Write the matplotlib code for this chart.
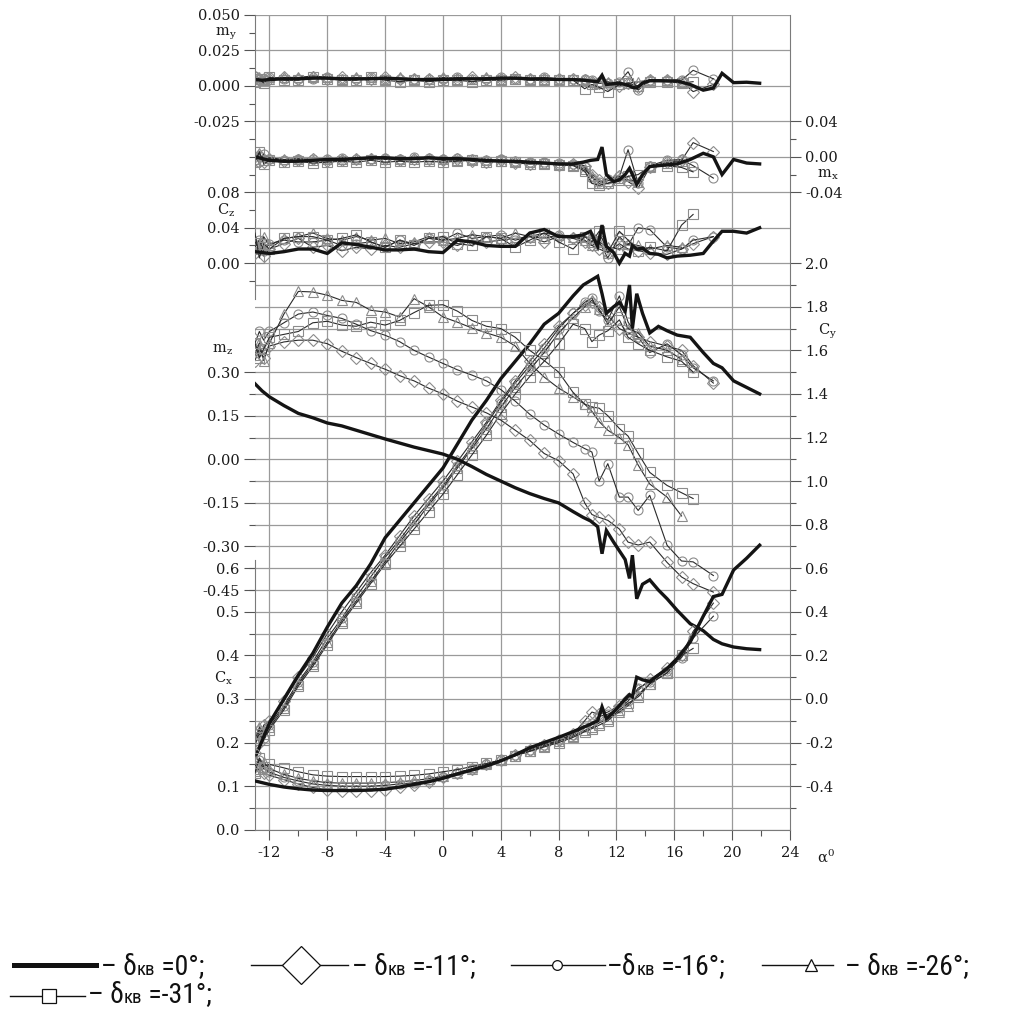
import numpy as np
import matplotlib
matplotlib.use("Agg")
import matplotlib.pyplot as plt
from matplotlib import font_manager
from matplotlib.lines import Line2D
from matplotlib.ticker import FixedLocator, FixedFormatter

nan = np.nan

# ---------------------------------------------------------------- data
# delta_kv = 0 deg (thick line)
alpha_0 = [-13, -12.5, -12, -11, -10, -9, -8, -7, -6, -5, -4, -3, -2, -1, 0, 1, 2, 3, 4, 5, 6, 7, 8, 9,
           9.7, 10.2, 10.7, 11.0, 11.3, 11.8, 12.2, 12.6, 12.9, 13.1, 13.4, 13.8, 14.3, 14.9, 15.5, 16.2,
           17.1, 18.0, 18.7, 19.3, 20.1, 21.0, 21.9]
cy_0 = [-0.27, -0.19, -0.11, 0.00, 0.11, 0.21, 0.33, 0.44, 0.52, 0.62, 0.74, 0.82, 0.90, 0.98, 1.06, 1.17,
        1.28, 1.37, 1.47, 1.55, 1.63, 1.72, 1.77, 1.85,
        1.90, 1.92, 1.94, 1.86, 1.77, 1.80, 1.82, 1.78, 1.90, 1.70, 1.86, 1.77, 1.68, 1.71, 1.69, 1.67,
        1.66, 1.59, 1.54, 1.52, 1.46, 1.43, 1.40]
mz_0 = [0.26, 0.235, 0.215, 0.185, 0.158, 0.143, 0.125, 0.115, 0.100, 0.085, 0.070, 0.056, 0.042, 0.030,
        0.018, 0.000, -0.025, -0.052, -0.075, -0.098, -0.118, -0.135, -0.150, -0.180,
        -0.200, -0.212, -0.232, -0.325, -0.245, -0.285, -0.315, -0.345, -0.410, -0.330, -0.480, -0.430,
        -0.415, -0.450, -0.480, -0.520, -0.566, -0.590, -0.620, -0.635, -0.646, -0.652, -0.655]
cx_0 = [0.112, 0.108, 0.104, 0.098, 0.094, 0.091, 0.090, 0.090, 0.090, 0.091, 0.093, 0.098, 0.104, 0.110,
        0.118, 0.128, 0.137, 0.146, 0.158, 0.172, 0.188, 0.200, 0.212, 0.225,
        0.235, 0.242, 0.250, 0.282, 0.255, 0.270, 0.285, 0.300, 0.310, 0.305, 0.350, 0.344, 0.340, 0.355,
        0.370, 0.393, 0.431, 0.490, 0.535, 0.540, 0.596, 0.623, 0.653]
cz_0 = [0.013, 0.012, 0.011, 0.013, 0.016, 0.016, 0.011, 0.023, 0.021, 0.018, 0.015, 0.015, 0.016, 0.013,
        0.012, 0.026, 0.024, 0.020, 0.019, 0.019, 0.034, 0.038, 0.030, 0.030,
        0.032, 0.036, 0.019, 0.043, 0.019, 0.012, 0.000, 0.011, 0.008, 0.020, 0.016, 0.017, 0.011, 0.010,
        0.006, 0.008, 0.009, 0.011, 0.025, 0.036, 0.036, 0.034, 0.040]
my_0 = [0.0045, 0.004, 0.0045, 0.005, 0.005, 0.0055, 0.0055, 0.005, 0.005, 0.005, 0.0055, 0.005, 0.0045,
        0.0045, 0.0045, 0.005, 0.005, 0.005, 0.0055, 0.0055, 0.005, 0.005, 0.0045, 0.0045,
        0.004, 0.0035, 0.003, 0.0075, 0.001, 0.0015, 0.002, 0.001, 0.000, -0.001, -0.0015, 0.002, 0.0037,
        0.0037, 0.0035, 0.0035, 0.001, -0.003, -0.0015, 0.0089, 0.0023, 0.0026, 0.0019]
mx_0 = [0.000, -0.002, -0.004, -0.005, -0.005, -0.004, -0.003, -0.003, -0.002, -0.001, -0.001, -0.002,
        -0.002, -0.001, -0.002, -0.002, -0.003, -0.004, -0.005, -0.005, -0.006, -0.007, -0.008, -0.008,
        -0.006, -0.004, -0.003, 0.011, -0.020, -0.028, -0.026, -0.020, -0.013, -0.020, -0.031, -0.020,
        -0.011, -0.010, -0.009, -0.008, -0.003, 0.004, 0.000, -0.020, -0.003, -0.007, -0.008]

# deflected cases (open markers)
alpha_m = [-13, -12.7, -12.4, -12, -11, -10, -9, -8, -7, -6, -5, -4, -3, -2, -1, 0, 1, 2, 3, 4, 5, 6, 7, 8, 9,
           9.8, 10.3, 10.8, 11.4, 12.2, 12.8, 13.5, 14.3, 15.5, 16.5, 17.3, 18.7]

cy_11 = [-0.16, -0.20, -0.12, -0.10, -0.01, 0.10, 0.19, 0.30, 0.40, 0.49, 0.58, 0.66, 0.75, 0.84, 0.92, 1.00,
         1.09, 1.18, 1.27, 1.37, 1.46, 1.55, 1.63, 1.71, 1.77,
         1.81, 1.82, 1.80, 1.76, 1.70, 1.68, 1.66, 1.64, 1.62, 1.60, 1.53, 1.45]
cy_16 = [-0.22, -0.14, -0.18, -0.12, -0.03, 0.08, 0.17, 0.28, 0.37, 0.47, 0.56, 0.65, 0.73, 0.82, 0.90, 0.98,
         1.07, 1.16, 1.26, 1.36, 1.45, 1.53, 1.61, 1.70, 1.77,
         1.82, 1.84, 1.78, 1.74, 1.85, 1.73, 1.66, 1.59, 1.63, 1.58, 1.52, 1.46]
cy_26 = [-0.19, -0.13, -0.16, -0.13, -0.04, 0.07, 0.16, 0.26, 0.36, 0.45, 0.54, 0.63, 0.72, 0.80, 0.89, 0.97,
         1.06, 1.15, 1.24, 1.34, 1.43, 1.51, 1.59, 1.68, 1.75,
         1.80, 1.83, 1.79, 1.72, 1.80, 1.70, 1.68, 1.62, 1.60, 1.56, nan, nan]
cy_31 = [-0.20, -0.16, -0.19, -0.14, -0.05, 0.06, 0.15, 0.25, 0.35, 0.44, 0.53, 0.62, 0.70, 0.78, 0.86, 0.94,
         1.03, 1.12, 1.21, 1.31, 1.40, 1.48, 1.55, 1.63, 1.72,
         1.70, 1.64, 1.67, 1.69, 1.74, 1.66, 1.63, 1.60, 1.57, 1.55, 1.50, nan]

mz_11 = [0.34, 0.38, 0.35, 0.39, 0.404, 0.41, 0.41, 0.398, 0.372, 0.35, 0.33, 0.31, 0.288, 0.27, 0.245, 0.225,
         0.20, 0.18, 0.16, 0.135, 0.10, 0.065, 0.02, -0.005, -0.05,
         -0.15, -0.19, -0.20, -0.21, -0.24, -0.285, -0.295, -0.285, -0.355, -0.405, -0.428, -0.457]
mz_16 = [0.40, 0.44, 0.41, 0.44, 0.47, 0.50, 0.507, 0.495, 0.485, 0.465, 0.443, 0.427, 0.405, 0.375, 0.352,
         0.33, 0.308, 0.29, 0.27, 0.24, 0.20, 0.155, 0.118, 0.087, 0.058,
         0.037, 0.025, -0.075, -0.015, -0.13, -0.13, -0.176, -0.124, -0.296, -0.35, -0.353, -0.40]
mz_26 = [0.36, 0.40, 0.34, 0.40, 0.50, 0.578, 0.576, 0.565, 0.547, 0.54, 0.513, 0.507, 0.49, 0.553, 0.525,
         0.49, 0.472, 0.452, 0.435, 0.42, 0.39, 0.33, 0.283, 0.245, 0.215,
         0.19, 0.165, 0.13, 0.10, 0.075, 0.05, -0.02, -0.085, -0.13, -0.195, nan, nan]
mz_31 = [0.40, 0.35, 0.38, 0.42, 0.43, 0.44, 0.47, 0.475, 0.462, 0.458, 0.472, 0.462, 0.478, 0.505, 0.53,
         0.532, 0.51, 0.478, 0.458, 0.45, 0.42, 0.375, 0.34, 0.30, 0.23,
         0.19, 0.18, 0.176, 0.15, 0.106, 0.08, 0.02, -0.045, -0.09, -0.115, -0.135, nan]

cx_11 = [0.175, 0.15, 0.13, 0.125, 0.115, 0.105, 0.097, 0.091, 0.090, 0.090, 0.090, 0.092, 0.097, 0.102, 0.110,
         0.120, 0.130, 0.140, 0.150, 0.160, 0.172, 0.183, 0.195, 0.205, 0.220,
         0.250, 0.270, 0.265, 0.270, 0.285, 0.300, 0.320, 0.345, 0.370, 0.400, 0.455, 0.520]
cx_16 = [0.145, 0.160, 0.140, 0.132, 0.120, 0.112, 0.105, 0.102, 0.100, 0.100, 0.100, 0.102, 0.105, 0.108,
         0.113, 0.121, 0.130, 0.140, 0.150, 0.160, 0.171, 0.182, 0.194, 0.205, 0.218,
         0.235, 0.245, 0.260, 0.265, 0.280, 0.295, 0.325, 0.340, 0.365, 0.395, 0.440, 0.490]
cx_26 = [0.135, 0.140, 0.155, 0.140, 0.127, 0.118, 0.112, 0.108, 0.107, 0.107, 0.107, 0.108, 0.110, 0.113,
         0.117, 0.123, 0.130, 0.140, 0.150, 0.160, 0.170, 0.180, 0.192, 0.203, 0.215,
         0.228, 0.235, 0.245, 0.255, 0.270, 0.285, 0.310, 0.335, 0.360, 0.400, nan, nan]
cx_31 = [0.130, 0.165, 0.145, 0.150, 0.142, 0.133, 0.126, 0.123, 0.122, 0.122, 0.122, 0.122, 0.123, 0.125,
         0.128, 0.133, 0.138, 0.145, 0.152, 0.160, 0.170, 0.180, 0.190, 0.200, 0.212,
         0.225, 0.232, 0.240, 0.250, 0.275, 0.290, 0.305, 0.335, 0.360, 0.400, 0.416, nan]

my_11 = [0.006, 0.004, 0.005, 0.005, 0.006, 0.005, 0.006, 0.005, 0.006, 0.005, 0.005, 0.006, 0.005, 0.005,
         0.005, 0.005, 0.005, 0.006, 0.005, 0.005, 0.006, 0.005, 0.005, 0.005, 0.005,
         0.004, 0.003, 0.002, 0.001, 0.000, 0.002, -0.001, 0.004, 0.004, 0.003, -0.004, 0.001]
my_16 = [0.007, 0.005, 0.004, 0.006, 0.005, 0.005, 0.005, 0.006, 0.005, 0.005, 0.006, 0.005, 0.005, 0.005,
         0.005, 0.005, 0.006, 0.005, 0.005, 0.006, 0.005, 0.005, 0.006, 0.005, 0.005,
         0.005, 0.004, 0.003, 0.002, 0.003, 0.010, -0.003, 0.004, 0.004, 0.004, 0.011, 0.005]
my_26 = [0.005, 0.006, 0.004, 0.005, 0.006, 0.006, 0.007, 0.006, 0.005, 0.006, 0.005, 0.005, 0.006, 0.005,
         0.005, 0.006, 0.005, 0.005, 0.006, 0.005, 0.005, 0.005, 0.005, 0.005, 0.004,
         0.004, 0.003, 0.002, 0.003, 0.001, 0.002, 0.003, 0.004, 0.004, 0.003, nan, nan]
my_31 = [0.003, 0.005, 0.002, 0.006, 0.004, 0.004, 0.006, 0.005, 0.004, 0.004, 0.006, 0.004, 0.003, 0.004,
         0.003, 0.004, 0.004, 0.003, 0.004, 0.004, 0.005, 0.004, 0.004, 0.004, 0.004,
         -0.002, 0.001, -0.001, -0.004, 0.001, 0.002, 0.000, 0.003, 0.003, 0.002, 0.003, nan]

mx_11 = [-0.004, 0.002, -0.006, -0.003, -0.005, -0.004, -0.003, -0.005, -0.004, -0.002, -0.003, -0.002, -0.004,
         -0.003, -0.002, -0.004, -0.003, -0.005, -0.006, -0.004, -0.007, -0.008, -0.007, -0.009, -0.008,
         -0.010, -0.020, -0.026, -0.030, -0.022, -0.028, -0.035, -0.012, -0.006, -0.004, 0.016, 0.006]
mx_16 = [0.000, -0.006, 0.003, -0.002, -0.004, -0.003, -0.002, -0.003, -0.001, -0.002, -0.003, -0.001, -0.002,
         0.000, -0.001, -0.002, -0.001, -0.003, -0.004, -0.003, -0.005, -0.006, -0.006, -0.007, -0.008,
         -0.012, -0.024, -0.028, -0.025, -0.022, 0.008, -0.030, -0.010, -0.004, -0.003, -0.010, -0.024]
mx_26 = [-0.002, 0.004, -0.004, -0.001, -0.003, -0.002, -0.004, -0.002, -0.003, -0.003, -0.001, -0.003, -0.002,
         -0.003, -0.002, -0.003, -0.004, -0.003, -0.004, -0.005, -0.005, -0.006, -0.007, -0.008, -0.009,
         -0.014, -0.022, -0.030, -0.027, -0.024, -0.026, -0.028, -0.010, -0.007, -0.005, nan, nan]
mx_31 = [-0.006, 0.006, -0.008, -0.004, -0.006, -0.005, -0.007, -0.006, -0.005, -0.006, -0.004, -0.006, -0.005,
         -0.006, -0.005, -0.006, -0.005, -0.004, -0.006, -0.005, -0.006, -0.008, -0.008, -0.009, -0.010,
         -0.016, -0.030, -0.032, -0.030, -0.026, -0.022, -0.020, -0.011, -0.010, -0.012, -0.017, nan]

cz_11 = [0.012, 0.020, 0.008, 0.016, 0.022, 0.028, 0.018, 0.020, 0.014, 0.018, 0.016, 0.020, 0.018, 0.022,
         0.024, 0.024, 0.020, 0.026, 0.024, 0.026, 0.028, 0.030, 0.024, 0.030, 0.028,
         0.024, 0.020, 0.016, 0.012, 0.022, 0.016, 0.014, 0.012, 0.010, 0.016, 0.022, 0.030]
cz_16 = [0.018, 0.026, 0.014, 0.022, 0.026, 0.024, 0.024, 0.026, 0.020, 0.022, 0.024, 0.018, 0.026, 0.022,
         0.028, 0.026, 0.034, 0.028, 0.030, 0.032, 0.026, 0.030, 0.034, 0.032, 0.028,
         0.030, 0.028, 0.024, 0.006, 0.030, 0.020, 0.040, 0.038, 0.018, 0.016, 0.026, 0.030]
cz_26 = [0.024, 0.016, 0.030, 0.020, 0.028, 0.030, 0.034, 0.028, 0.026, 0.030, 0.026, 0.028, 0.022, 0.024,
         0.030, 0.026, 0.028, 0.032, 0.030, 0.028, 0.034, 0.030, 0.028, 0.032, 0.030,
         0.026, 0.020, 0.024, 0.018, 0.016, 0.022, 0.020, 0.016, 0.020, 0.018, nan, nan]
cz_31 = [0.034, 0.006, 0.022, 0.016, 0.028, 0.030, 0.030, 0.026, 0.028, 0.032, 0.024, 0.018, 0.026, 0.020,
         0.028, 0.030, 0.022, 0.020, 0.030, 0.028, 0.018, 0.026, 0.034, 0.024, 0.016,
         0.030, 0.024, 0.036, 0.012, 0.036, 0.026, 0.014, 0.018, 0.014, 0.043, 0.055, nan]

x_ticks = [-12, -8, -4, 0, 4, 8, 12, 16, 20, 24]
legend_values = ["0", "-11", "-16", "-26", "-31"]

# ---------------------------------------------------------------- fonts
plt.rcParams["font.family"] = "DejaVu Serif"
plt.rcParams["mathtext.fontset"] = "dejavuserif"


def pick_font(names):
    for n in names:
        try:
            font_manager.findfont(n, fallback_to_default=False)
            return n
        except Exception:
            continue
    return "DejaVu Sans"


LEGEND_FONT = pick_font(["Liberation Sans Narrow", "Roboto Condensed", "Open Sans Condensed", "DejaVu Sans"])

# ---------------------------------------------------------------- layout
W, H = 1021, 1009
fig = plt.figure(figsize=(W / 100, H / 100), dpi=100)
fig.patch.set_facecolor("white")

X_LEFT, X_RIGHT = 255.0, 790.0
Y_TOP = 15.0
CY_ZERO_PX, CY_PX = 699.0, 217.9
Y_BOT = CY_ZERO_PX + 0.6 * CY_PX
TOP_STEP = (CY_ZERO_PX - 2.0 * CY_PX - Y_TOP) / 7.0

# (row of zero, pixels per unit) for each quantity sharing the frame
SCALE = {
    "my": (Y_TOP + 2 * TOP_STEP, TOP_STEP / 0.025),
    "mx": (Y_TOP + 4 * TOP_STEP, TOP_STEP / 0.04),
    "cz": (Y_TOP + 7 * TOP_STEP, TOP_STEP / 0.04),
    "cy": (CY_ZERO_PX, CY_PX),
    "mz": (CY_ZERO_PX - 1.1 * CY_PX, CY_PX * 0.2 / 0.15),
    "cx": (Y_BOT, 2.0 * CY_PX),
}
RECT = [X_LEFT / W, 1 - Y_BOT / H, (X_RIGHT - X_LEFT) / W, (Y_BOT - Y_TOP) / H]
XLIM = (-13, 24)

GRID_C = "#9a9a9a"
TICK_C = "#555555"
LABEL_SIZE = 10.5


def make_axes(key):
    a = fig.add_axes(RECT, label=key)
    p0, k = SCALE[key]
    a.set_xlim(*XLIM)
    a.set_ylim(-(Y_BOT - p0) / k, (p0 - Y_TOP) / k)
    a.patch.set_visible(False)
    for s in a.spines.values():
        s.set_visible(False)
    a.tick_params(which="both", left=False, right=False, bottom=False, top=False,
                  labelleft=False, labelright=False, labelbottom=False, labeltop=False)
    return a


ax = {k: make_axes(k) for k in ["cy", "my", "mx", "cz", "mz", "cx"]}

# grid
base = ax["cy"]
for xv in x_ticks[:-1]:
    base.axvline(xv, color=GRID_C, lw=0.9, zorder=0)
for i in range(-6, 21):
    base.axhline(i / 10, color=GRID_C, lw=0.9, zorder=0)
for v in [0.05, 0.025, 0.0, -0.025]:
    ax["my"].axhline(v, color=GRID_C, lw=0.9, zorder=0)
ax["mx"].axhline(0.0, color=GRID_C, lw=0.9, zorder=0)
for v in [0.08, 0.04]:
    ax["cz"].axhline(v, color=GRID_C, lw=0.9, zorder=0)

# frame pieces
base.spines["right"].set_visible(True)
base.spines["right"].set_color("#7a7a7a")
ax["cz"].spines["left"].set_visible(True)
ax["cz"].spines["left"].set_color("#7a7a7a")
ax["cz"].spines["left"].set_bounds(-0.04, ax["cz"].get_ylim()[1])
ax["cx"].spines["left"].set_visible(True)
ax["cx"].spines["left"].set_color("#7a7a7a")
ax["cx"].spines["left"].set_bounds(0.0, 0.62)
ax["cx"].spines["bottom"].set_visible(True)
ax["cx"].spines["bottom"].set_color("#7a7a7a")


def set_ticks(a, side, major, labels, minor):
    axis = a.yaxis if side in ("left", "right") else a.xaxis
    axis.set_major_locator(FixedLocator(major))
    axis.set_major_formatter(FixedFormatter(labels))
    axis.set_minor_locator(FixedLocator(minor))
    kw = {side: True, "label" + side: True}
    a.tick_params(which="both", colors=TICK_C, labelcolor="#1a1a1a", labelsize=LABEL_SIZE, width=0.8,
                  direction="out", **kw)
    a.tick_params(which="major", length=8, pad=3)
    a.tick_params(which="minor", length=4)


set_ticks(ax["my"], "left", [0.05, 0.025, 0.0, -0.025], ["0.050", "0.025", "0.000", "-0.025"],
          [0.0375, 0.0125, -0.0125, -0.0375, -0.05, -0.0625])
set_ticks(ax["cz"], "left", [0.08, 0.04, 0.0], ["0.08", "0.04", "0.00"], [0.06, 0.02, -0.02])
set_ticks(ax["mz"], "left", [0.30, 0.15, 0.0, -0.15, -0.30, -0.45],
          ["0.30", "0.15", "0.00", "-0.15", "-0.30", "-0.45"], [0.225, 0.075, -0.075, -0.225, -0.375])
set_ticks(ax["cx"], "left", [0.0, 0.1, 0.2, 0.3, 0.4, 0.5, 0.6],
          ["0.0", "0.1", "0.2", "0.3", "0.4", "0.5", "0.6"], [0.05, 0.15, 0.25, 0.35, 0.45, 0.55])
set_ticks(ax["mx"], "right", [0.04, 0.0, -0.04], ["0.04", "0.00", "-0.04"], [0.02, -0.02])
cy_major = [2.0, 1.8, 1.6, 1.4, 1.2, 1.0, 0.8, 0.6, 0.4, 0.2, 0.0, -0.2, -0.4]
set_ticks(ax["cy"], "right", cy_major, ["%.1f" % v for v in cy_major],
          [1.9, 1.7, 1.5, 1.3, 1.1, 0.9, 0.7, 0.5, 0.3, 0.1, -0.1, -0.3, -0.5])
set_ticks(ax["cx"], "bottom", x_ticks, [str(v) for v in x_ticks], [v + 2 for v in x_ticks[:-1]])
ax["cx"].tick_params(axis="x", which="major", length=7, pad=5)

# curves: open-marker cases first, then the reference case on top
cases = [
    dict(cy=cy_11, mz=mz_11, cx=cx_11, my=my_11, mx=mx_11, cz=cz_11, marker="D", ms=6.0),
    dict(cy=cy_16, mz=mz_16, cx=cx_16, my=my_16, mx=mx_16, cz=cz_16, marker="o", ms=6.5),
    dict(cy=cy_26, mz=mz_26, cx=cx_26, my=my_26, mx=mx_26, cz=cz_26, marker="^", ms=7.0),
    dict(cy=cy_31, mz=mz_31, cx=cx_31, my=my_31, mx=mx_31, cz=cz_31, marker="s", ms=7.0),
]
reference = dict(cy=cy_0, mz=mz_0, cx=cx_0, my=my_0, mx=mx_0, cz=cz_0)

for key in ["my", "mx", "cz", "cy", "mz", "cx"]:
    for c in cases:
        ax[key].plot(alpha_m, c[key], color="#2a2a2a", lw=0.8, marker=c["marker"], ms=c["ms"],
                     mfc="none", mec="#8c8c8c", mew=0.8, zorder=3)
    ax[key].plot(alpha_0, reference[key], color="#141414", lw=2.4, solid_joinstyle="miter", zorder=4)

# axis names
def px_text(x, y, s, **kw):
    fig.text(x / W, 1 - y / H, s, ha="center", va="center", fontsize=LABEL_SIZE, color="#1a1a1a", **kw)


px_text(226, 34, r"m$_\mathrm{y}$")
px_text(226, 210, r"C$_\mathrm{z}$")
px_text(223, 350, r"m$_\mathrm{z}$")
px_text(223, 678, r"C$_\mathrm{x}$")
px_text(828, 175, r"m$_\mathrm{x}$")
px_text(828, 331, r"C$_\mathrm{y}$")
px_text(826, 856, r"α$^\mathrm{0}$")

# legend
renderer = fig.canvas.get_renderer()


def legend_sample(x0, x1, y, marker=None, ms=0, lw=1.0, mx=None):
    fig.add_artist(Line2D([x0 / W, x1 / W], [1 - y / H, 1 - y / H], color="#111111", lw=lw,
                          transform=fig.transFigure))
    if marker:
        fig.add_artist(Line2D([mx / W], [1 - y / H], marker=marker, ms=ms, mfc="white", mec="#111111",
                              mew=0.9, transform=fig.transFigure))


def legend_text(x, y, value, lead="– "):
    pieces = [(lead + "δ", 20), ("кв", 13.5), (" =" + value + "°;", 20)]
    for s, size in pieces:
        t = fig.text(x / W, 1 - y / H, s, fontsize=size, family=LEGEND_FONT, va="baseline", ha="left",
                     color="#111111")
        x += t.get_window_extent(renderer).width


legend_sample(14, 96, 965, lw=3.6)
legend_text(101, 975, legend_values[0])
legend_sample(251, 348, 965, marker="D", ms=19, mx=301)
legend_text(352, 975, legend_values[1])
legend_sample(511, 605, 965, marker="o", ms=7, mx=557)
legend_text(607, 975, legend_values[2], lead="–")
legend_sample(762, 833, 965, marker="^", ms=8, mx=811)
legend_text(845, 975, legend_values[3])
legend_sample(10, 85, 996, marker="s", ms=10, mx=49)
legend_text(88, 1003, legend_values[4])

fig.savefig("out.png", dpi=100, facecolor="white")
